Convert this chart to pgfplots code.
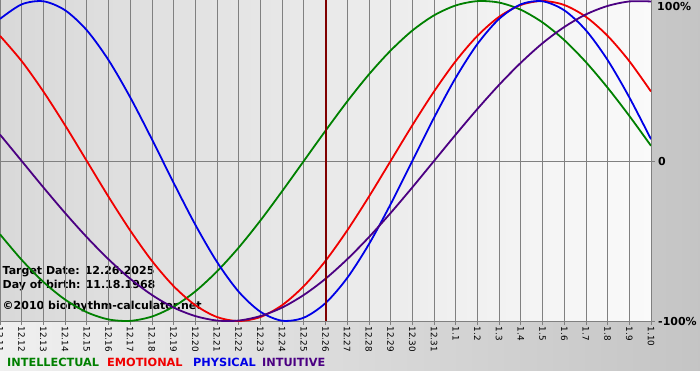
\documentclass[border=0pt]{standalone}
\usepackage{pgfplots}
\pgfplotsset{compat=1.18}
\usepackage{fontspec}
\setmainfont{DejaVu Sans}
\definecolor{cInt}{HTML}{008000}
\definecolor{cEmo}{HTML}{F00000}
\definecolor{cPhy}{HTML}{0000E6}
\definecolor{cItu}{HTML}{4B0082}
\definecolor{cTgt}{HTML}{800000}
\definecolor{cGrid}{HTML}{808080}

\pgfplotstableread{
d  intel  emo    phys   intu
0  -0.458  0.782  0.888  0.165
1  -0.618  0.624  0.979  0.000
2  -0.756  0.434  0.998 -0.165
3  -0.866  0.223  0.942 -0.325
4  -0.945  0.000  0.817 -0.476
5  -0.990 -0.223  0.631 -0.614
6  -0.999 -0.434  0.398 -0.736
7  -0.972 -0.624  0.136 -0.837
8  -0.910 -0.782 -0.136 -0.916
9  -0.815 -0.901 -0.398 -0.969
10 -0.690 -0.975 -0.631 -0.997
11 -0.541 -1.000 -0.817 -0.997
12 -0.372 -0.975 -0.942 -0.969
13 -0.189 -0.901 -0.998 -0.916
14  0.000 -0.782 -0.979 -0.837
15  0.189 -0.624 -0.888 -0.736
16  0.372 -0.434 -0.731 -0.614
17  0.541 -0.223 -0.520 -0.476
18  0.690  0.000 -0.270 -0.325
19  0.815  0.223  0.000 -0.165
20  0.910  0.434  0.270  0.000
21  0.972  0.624  0.520  0.165
22  0.999  0.782  0.731  0.325
23  0.990  0.901  0.888  0.476
24  0.945  0.975  0.979  0.614
25  0.866  1.000  0.998  0.736
26  0.756  0.975  0.942  0.837
27  0.618  0.901  0.817  0.916
28  0.458  0.782  0.631  0.969
29  0.282  0.624  0.398  0.997
30  0.095  0.434  0.136  0.997
}\bio

\begin{document}
\begin{tikzpicture}[x=1pt,y=1pt]
\fill[white] (0,0) rectangle (700,380);
\shade[left color=gray!12, right color=gray!46] (0,10) rectangle (700,380);
\shade[left color=gray!30, right color=gray!4] (0,59) rectangle (651,380);
\begin{scope}[font=\bfseries\fontsize{11}{13}\selectfont]
\node[anchor=west, inner sep=0] at (2.5,108) {Target Date: 12.26.2025};
\node[anchor=west, inner sep=0] at (2.5,94) {Day of birth: 11.18.1968};
\node[anchor=west, inner sep=0] at (2.5,73) {©2010 biorhythm-calculator.net};
\end{scope}
\begin{axis}[at={(0pt,219pt)}, anchor=origin, scale only axis,
  width=651pt, height=321pt,
  xmin=0, xmax=30, ymin=-1, ymax=1.006,
  axis line style={draw=none},
  xtick={0,...,30},
  xticklabels={12.11,12.12,12.13,12.14,12.15,12.16,12.17,12.18,12.19,12.20,12.21,12.22,12.23,12.24,12.25,12.26,12.27,12.28,12.29,12.30,12.31,1.1,1.2,1.3,1.4,1.5,1.6,1.7,1.8,1.9,1.10},
  ytick={-1,0}, yticklabels={{-100\%},{0}},
  xmajorgrids, ymajorgrids,
  grid style={draw=cGrid, line width=0.8pt},
  tick style={draw=cGrid, line width=0.8pt},
  major tick length=4pt, tick align=outside,
  xtick pos=bottom, ytick pos=right, yticklabel pos=right,
  xticklabel style={rotate=-90, anchor=west, inner sep=1.5pt, font=\fontsize{8.8}{9}\selectfont},
  yticklabel style={anchor=west, inner sep=0pt, xshift=3pt, font=\bfseries\fontsize{11}{13}\selectfont},
  clip=true,
]
\addplot[cInt, line width=1.8pt, smooth] table[x=d, y=intel] {\bio};
\addplot[cEmo, line width=1.8pt, smooth] table[x=d, y=emo] {\bio};
\addplot[cPhy, line width=1.8pt, smooth] table[x=d, y=phys] {\bio};
\addplot[cItu, line width=1.8pt, smooth] table[x=d, y=intu] {\bio};
\addplot[cTgt, line width=2pt] coordinates {(15,-1) (15,1.006)};
\end{axis}
\node[anchor=north west, inner sep=0, font=\bfseries\fontsize{11}{13}\selectfont] at (657,378) {100\%};
\begin{scope}[font=\bfseries\fontsize{11.3}{13}\selectfont, inner sep=0, anchor=west]
\node[anchor=west] at (7,18) {\textcolor{cInt}{INTELLECTUAL}};
\node[anchor=west] at (107,18) {\textcolor{cEmo}{EMOTIONAL}};
\node[anchor=west] at (193,18) {\textcolor{cPhy}{PHYSICAL}};
\node[anchor=west] at (262,18) {\textcolor{cItu}{INTUITIVE}};
\end{scope}
\pgfresetboundingbox
\path (0,0) rectangle (700,380);
\end{tikzpicture}
\end{document}
